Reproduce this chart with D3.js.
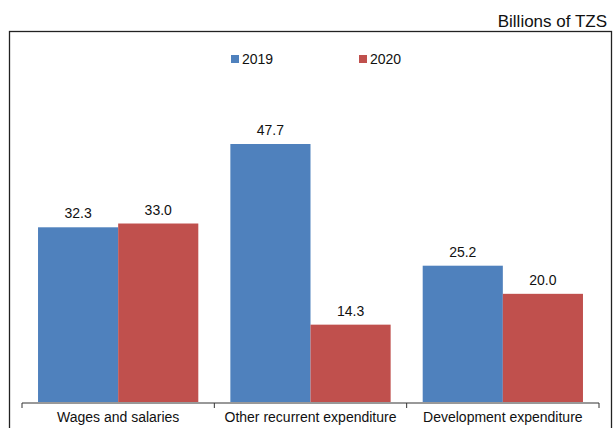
<!DOCTYPE html>
<html><head><meta charset="utf-8">
<script src="https://cdn.jsdelivr.net/npm/d3@7"></script>
<style>body{margin:0;background:#fff}text{font-family:"Liberation Sans",Arial,sans-serif}</style>
</head><body>
<script>
var categories = ['Wages and salaries', 'Other recurrent expenditure', 'Development expenditure'];
var series = ['2019', '2020'];
var values2019 = [32.3, 47.7, 25.2];
var values2020 = [33.0, 14.3, 20.0];
var colors = ['#4f81bd', '#c0504d'];

var svg = d3.select('body').append('svg').attr('width', 615).attr('height', 428);
svg.append('text').attr('x', 607).attr('y', 27).attr('text-anchor', 'end')
	.attr('font-size', 17).attr('fill', '#111').text('Billions of TZS');
svg.append('rect').attr('x', 9.5).attr('y', 31.5).attr('width', 602).attr('height', 420)
	.attr('fill', 'none').attr('stroke', '#222').attr('stroke-width', 1.3);

var x = d3.scaleBand().domain(categories).range([22, 599]);
var xs = d3.scaleBand().domain(series).range([0, x.bandwidth()]).paddingOuter(0.2).paddingInner(0);
var y = d3.scaleLinear().domain([0, 47.7]).range([402, 144]);

var data = [];
categories.forEach(function(c, i){
	data.push({c: c, s: '2019', v: values2019[i]});
	data.push({c: c, s: '2020', v: values2020[i]});
});
svg.selectAll('rect.bar').data(data).enter().append('rect').attr('class', 'bar')
	.attr('x', d => x(d.c) + xs(d.s)).attr('width', xs.bandwidth())
	.attr('y', d => y(d.v)).attr('height', d => y(0) - y(d.v))
	.attr('fill', d => colors[series.indexOf(d.s)]);
svg.selectAll('text.lab').data(data).enter().append('text').attr('class', 'lab')
	.attr('x', d => x(d.c) + xs(d.s) + xs.bandwidth() / 2).attr('y', d => y(d.v) - 9)
	.attr('text-anchor', 'middle').attr('font-size', 14).attr('fill', '#111')
	.text(d => d.v.toFixed(1));

var axis = svg.append('g').attr('transform', 'translate(0,403)');
axis.append('line').attr('x1', 22).attr('x2', 599).attr('stroke', '#333');
var edges = categories.map(c => x(c)).concat([x.range()[1]]);
axis.selectAll('line.t').data(edges).enter().append('line').attr('class', 't')
	.attr('x1', d => d).attr('x2', d => d).attr('y1', 0).attr('y2', 5).attr('stroke', '#333');
axis.selectAll('text').data(categories).enter().append('text')
	.attr('x', d => x(d) + x.bandwidth() / 2).attr('y', 19).attr('text-anchor', 'middle')
	.attr('font-size', 14).attr('fill', '#111').text(d => d);

var leg = svg.selectAll('g.leg').data(series).enter().append('g').attr('class', 'leg')
	.attr('transform', (d, i) => 'translate(' + (231 + i * 128) + ',55)');
leg.append('rect').attr('width', 8).attr('height', 8).attr('fill', (d, i) => colors[i]);
leg.append('text').attr('x', 11).attr('y', 9).attr('font-size', 14).attr('fill', '#111').text(d => d);
</script>
</body></html>
